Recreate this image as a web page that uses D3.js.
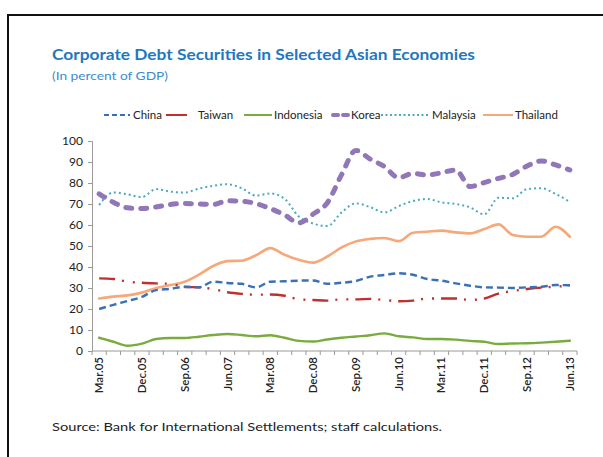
<!DOCTYPE html>
<html><head><meta charset="utf-8">
<script src="https://cdn.jsdelivr.net/npm/d3@7/dist/d3.min.js"></script>
<style>
html,body{margin:0;padding:0;background:#fff;}
svg{display:block;font-family:Lato,"Open Sans",sans-serif;}
</style></head>
<body>
<svg id="chart" width="603" height="457"></svg>
<script>
const quarters = ["Mar.05","Jun.05","Sep.05","Dec.05","Mar.06","Jun.06","Sep.06","Dec.06","Mar.07","Jun.07","Sep.07","Dec.07","Mar.08","Jun.08","Sep.08","Dec.08","Mar.09","Jun.09","Sep.09","Dec.09","Mar.10","Jun.10","Sep.10","Dec.10","Mar.11","Jun.11","Sep.11","Dec.11","Mar.12","Jun.12","Sep.12","Dec.12","Mar.13","Jun.13"];
const china     = [20,22,23.8,25.8,29,29.6,30.6,30.3,33,32.4,32,30.3,33,33.2,33.5,33.6,32,32.5,33.3,35.4,36.2,37,36.3,34.3,33.5,32.2,31.1,30.3,30.2,30,30.3,30.6,31.4,31.3];
const taiwan    = [34.6,34.3,33,32.5,32.2,32,30.5,30.3,29.5,28,27.2,26.8,26.9,26.3,24.6,24.3,24,24.6,24.6,24.8,24.3,23.7,24,25,25,25,24.3,25,27.3,28.6,29.5,30.2,30.6,31.3];
const indonesia = [6.3,4.4,2.5,3.5,5.7,6.2,6.2,6.8,7.6,8.1,7.6,7,7.5,6.3,4.8,4.5,5.5,6.3,6.9,7.5,8.4,7,6.5,5.7,5.7,5.4,4.8,4.4,3.3,3.6,3.7,4,4.4,4.9];
const korea     = [74.8,70.8,68.2,67.8,68.6,69.8,70.2,70,69.8,71.5,71.3,70.2,67.8,64.8,61,65.2,70.6,84,95.5,91.4,87.8,82.5,84.6,83.8,84.9,86.2,78.3,80.2,82.2,84.1,88.1,90.5,88.6,86.2];
const malaysia  = [69.5,75.5,74.6,73.3,77.1,75.9,75.5,77.3,78.7,79.4,77.5,74,75,72.5,64,60.7,59.5,66,70.3,68.5,66,69,71.4,72.4,70.8,70,68.4,65.1,73,72.7,77.1,77.5,74.8,71];
const thailand  = [25,25.9,26.5,27.8,30,31.4,33,36.4,40.5,42.8,43,45.6,49,45.8,43.4,42.1,45,49.3,52.2,53.4,53.8,52.3,56.3,56.8,57.3,56.5,56,58.1,60.3,55.2,54.4,54.4,59.2,54.4];
const yTicks = [0,10,20,30,40,50,60,70,80,90,100];
const xLabelEvery = 3;

const series = [
  {name:"China", values:china, color:"#3a70b4", width:2.4, dash:"7,4", cap:"butt"},
  {name:"Taiwan", values:taiwan, color:"#c0302e", width:2.4, dash:"16,7,2,9,2,7", cap:"butt"},
  {name:"Indonesia", values:indonesia, color:"#7aab3e", width:2.4, dash:null, cap:"round"},
  {name:"Korea", values:korea, color:"#9176b8", width:5, dash:"6,9", cap:"round"},
  {name:"Malaysia", values:malaysia, color:"#4aaac4", width:2, dash:"2,3", cap:"butt"},
  {name:"Thailand", values:thailand, color:"#f6a878", width:2.6, dash:null, cap:"round"}
];

const svg = d3.select("#chart");
// frame
svg.append("path").attr("d","M8,457 L8,15 L603,15").attr("fill","none").attr("stroke","#111").attr("stroke-width",2);

svg.append("text").attr("x",52).attr("y",60).attr("fill","#1f78bf").attr("font-weight","bold")
  .attr("font-size",14.5).attr("textLength",423).attr("lengthAdjust","spacingAndGlyphs")
  .text("Corporate Debt Securities in Selected Asian Economies");
svg.append("text").attr("x",52).attr("y",80).attr("fill","#3c8ccc")
  .attr("font-size",11.5).attr("textLength",116).attr("lengthAdjust","spacingAndGlyphs")
  .text("(In percent of GDP)");

const x = d3.scaleBand().domain(d3.range(quarters.length)).range([92,577]);
const y = d3.scaleLinear().domain([0,100]).range([351,141]);
const cx = i => x(i) + x.bandwidth()/2;

// y axis
const yAxis = d3.axisLeft(y).tickValues(yTicks).tickSize(4).tickPadding(5);
const gy = svg.append("g").attr("transform","translate(92,0)").call(yAxis);
gy.select(".domain").attr("stroke","#9a9a9a");
gy.selectAll(".tick line").attr("stroke","#9a9a9a");
gy.selectAll(".tick text").attr("fill","#222").attr("font-size",12).attr("font-family","Lato,sans-serif");

// x axis: ticks at category boundaries
const gx = svg.append("g");
gx.append("line").attr("x1",92).attr("x2",577).attr("y1",y(0)).attr("y2",y(0)).attr("stroke","#9a9a9a");
const bounds = d3.range(quarters.length+1).map(i => i < quarters.length ? x(i) : x(quarters.length-1)+x.bandwidth());
gx.selectAll("line.tk").data(bounds).enter().append("line").attr("class","tk")
  .attr("x1",d=>d).attr("x2",d=>d).attr("y1",y(0)).attr("y2",y(0)+4).attr("stroke","#9a9a9a");
gx.selectAll("text").data(quarters.map((q,i)=>({q,i})).filter(d=>d.i%xLabelEvery===0)).enter().append("text")
  .attr("transform",d=>`translate(${cx(d.i)+4},${y(0)+6}) rotate(-90)`)
  .attr("text-anchor","end").attr("fill","#222").attr("font-size",11.5).attr("font-weight",600)
  .text(d=>d.q);

// lines
const line = d3.line().x((d,i)=>cx(i)).y(d=>y(d)).curve(d3.curveMonotoneX);
const drawOrder = ["Indonesia","Thailand","Taiwan","China","Malaysia","Korea"];
drawOrder.forEach(n => {
  const s = series.find(z=>z.name===n);
  svg.append("path").datum(s.values).attr("d",line).attr("fill","none")
    .attr("stroke",s.color).attr("stroke-width",s.width)
    .attr("stroke-dasharray",s.dash).attr("stroke-linecap",s.cap).attr("stroke-linejoin","round");
});

// legend
const legendLayout = [[104,130,133],[166,187,198],[244,272,274],[333,348,351],[381,429,432],[483,513,515]];
const ly = 115;
series.forEach((s,k) => {
  const [a,b,t] = legendLayout[k];
  svg.append("line").attr("x1",a).attr("x2",b).attr("y1",ly).attr("y2",ly)
    .attr("stroke",s.color).attr("stroke-width",s.name==="Korea"?4:2)
    .attr("stroke-dasharray", s.name==="China"?"5,3": s.name==="Korea"?"5,5": s.name==="Malaysia"?"2,2.5": null)
    .attr("stroke-linecap", s.name==="Korea"?"round":"butt");
  svg.append("text").attr("x",t).attr("y",ly+4).attr("fill","#222").attr("font-size",11.5).text(s.name);
});

svg.append("text").attr("x",52).attr("y",431).attr("fill","#222").attr("font-size",12)
  .attr("textLength",390).attr("lengthAdjust","spacingAndGlyphs")
  .text("Source: Bank for International Settlements; staff calculations.");
</script>
</body></html>
